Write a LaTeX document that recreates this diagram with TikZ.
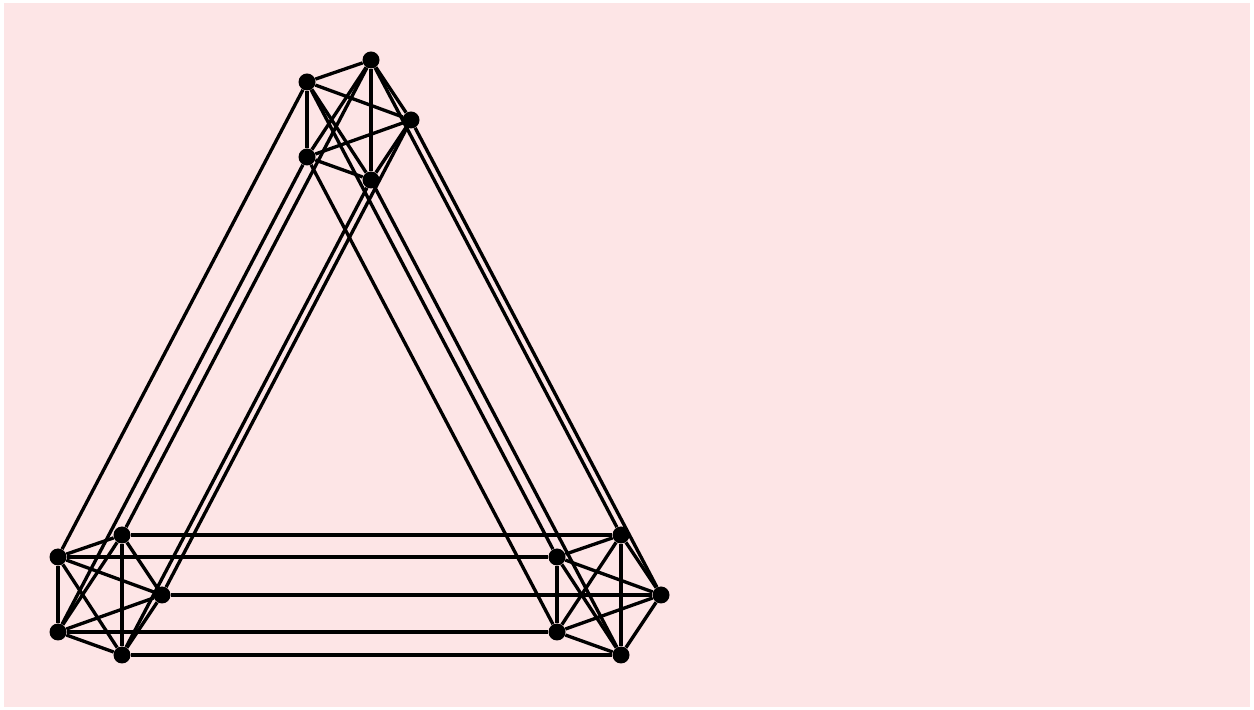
\documentclass[tikz,border=0pt]{standalone}
\usetikzlibrary{backgrounds}
\definecolor{bgpink}{RGB}{253,229,230}
\begin{document}
\begin{tikzpicture}[
    vert/.style={circle, fill=black, inner sep=0pt, minimum size=0.34cm},
    edge/.style={line width=1.9pt}
]
\useasboundingbox (0,0) rectangle (25.08,14.2);
\fill[bgpink] (0.08,0.06) rectangle (25.0,14.14);

% top cluster
\node[vert] (a1) at (6.14, 12.56) {};
\node[vert] (a2) at (7.42, 13.0) {};
\node[vert] (a3) at (8.22, 11.8) {};
\node[vert] (a4) at (6.14, 11.06) {};
\node[vert] (a5) at (7.42, 10.6) {};
% bottom left cluster
\node[vert] (b1) at (1.16, 3.06) {};
\node[vert] (b2) at (2.44, 3.5) {};
\node[vert] (b3) at (3.24, 2.3) {};
\node[vert] (b4) at (1.16, 1.56) {};
\node[vert] (b5) at (2.44, 1.1) {};
% bottom right cluster
\node[vert] (c1) at (11.14, 3.06) {};
\node[vert] (c2) at (12.42, 3.5) {};
\node[vert] (c3) at (13.22, 2.3) {};
\node[vert] (c4) at (11.14, 1.56) {};
\node[vert] (c5) at (12.42, 1.1) {};

% edges inside each cluster
\foreach \g in {a,b,c}
  \foreach \i/\j in {1/2,1/3,1/4,1/5,2/3,2/4,2/5,3/4,3/5,4/5}
    \draw[edge] (\g\i) -- (\g\j);

% edges between clusters
\foreach \i in {1,...,5} {
  \draw[edge] (a\i) -- (b\i);
  \draw[edge] (a\i) -- (c\i);
  \draw[edge] (b\i) -- (c\i);
}
\end{tikzpicture}
\end{document}
